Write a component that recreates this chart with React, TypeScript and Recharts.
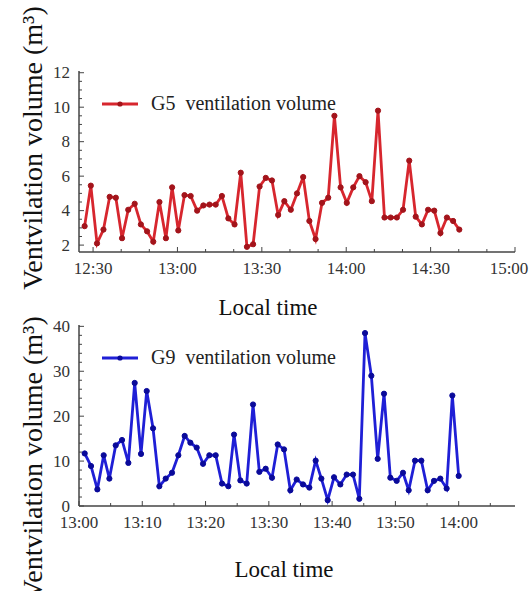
import { LineChart, Line, XAxis, YAxis, Legend } from "recharts";

// G5: minutes after 12:00
const g5Times = [
    27.0, 29.2, 31.4, 33.7, 35.9, 38.1, 40.3, 42.5, 44.8, 47.0, 49.2, 51.4, 53.6, 55.9, 58.1, 60.3,
    62.5, 64.7, 67.0, 69.2, 71.4, 73.6, 75.8, 78.1, 80.3, 82.5, 84.7, 86.9, 89.2, 91.4, 93.6, 95.8,
    98.0, 100.3, 102.5, 104.7, 106.9, 109.1, 111.4, 113.6, 115.8, 118.0, 120.2, 122.5, 124.7, 126.9,
    129.1, 131.3, 133.6, 135.8, 138.0, 140.2, 142.4, 144.7, 146.9, 149.1, 151.3, 153.5, 155.8, 158.0,
    160.2,
];
const g5Volume = [
    3.1, 5.45, 2.1, 2.9, 4.8, 4.75, 2.4, 4.05, 4.4, 3.2, 2.8, 2.2, 4.5, 2.4, 5.35, 2.85, 4.9, 4.85,
    4.0, 4.3, 4.35, 4.35, 4.85, 3.55, 3.2, 6.2, 1.9, 2.05, 5.4, 5.9, 5.75, 3.75, 4.55, 4.05, 5.0,
    5.95, 3.4, 2.35, 4.45, 4.75, 9.5, 5.35, 4.45, 5.35, 6.0, 5.65, 4.55, 9.8, 3.6, 3.6, 3.6, 4.05,
    6.9, 3.65, 3.2, 4.05, 4.0, 2.7, 3.6, 3.4, 2.9,
];

// G9: minutes after 13:00
const g9Times = [
    0.9, 1.9, 2.9, 3.9, 4.8, 5.8, 6.8, 7.8, 8.8, 9.8, 10.7, 11.7, 12.7, 13.7, 14.7, 15.7, 16.7,
    17.6, 18.6, 19.6, 20.6, 21.6, 22.6, 23.6, 24.5, 25.5, 26.5, 27.5, 28.5, 29.5, 30.5, 31.4, 32.4,
    33.4, 34.4, 35.4, 36.4, 37.4, 38.3, 39.3, 40.3, 41.3, 42.3, 43.3, 44.3, 45.2, 46.2, 47.2, 48.2,
    49.2, 50.2, 51.2, 52.1, 53.1, 54.1, 55.1, 56.1, 57.1, 58.1, 59.0, 60.0,
];
const g9Volume = [
    11.7, 8.9, 3.7, 11.3, 6.1, 13.5, 14.7, 9.6, 27.4, 11.6, 25.6, 17.3, 4.4, 6.1, 7.4, 11.3, 15.6,
    14.1, 13.0, 9.4, 11.3, 11.3, 5.0, 4.4, 15.9, 5.7, 5.0, 22.6, 7.6, 8.3, 6.3, 13.7, 12.6, 3.5,
    5.9, 4.8, 4.1, 10.1, 6.1, 1.3, 6.4, 4.8, 7.0, 7.0, 1.6, 38.5, 29.0, 10.5, 25.0, 6.3, 5.6, 7.4,
    3.5, 10.1, 10.1, 3.5, 5.6, 6.1, 3.9, 24.6, 6.7,
];

const g5TickMinutes = [30, 60, 90, 120, 150, 180];
const g5TickLabels = ["12:30", "13:00", "13:30", "14:00", "14:30", "15:00"];
const g5MinorMinutes = [40, 50, 70, 80, 100, 110, 130, 140, 160, 170];
const g5YTicks = [2, 4, 6, 8, 10, 12];
const g5YMinor = [2.5, 3, 3.5, 4.5, 5, 5.5, 6.5, 7, 7.5, 8.5, 9, 9.5, 10.5, 11, 11.5];

const g9TickMinutes = [0, 10, 20, 30, 40, 50, 60];
const g9TickLabels = ["13:00", "13:10", "13:20", "13:30", "13:40", "13:50", "14:00"];
const g9MinorMinutes = [5, 15, 25, 35, 45, 55, 65];
const g9YTicks = [0, 10, 20, 30, 40];
const g9YMinor = [2, 4, 6, 8, 12, 14, 16, 18, 22, 24, 26, 28, 32, 34, 36, 38];

const FONT = "'Liberation Serif', 'Times New Roman', serif";
const AXIS = "#444";
const FRAME = "#8a8a8a";
const M = 10;

const makeXTick = (majors: number[], labels: string[]) => (props: any) => {
    const { x, y, payload } = props;
    const i = majors.indexOf(payload.value);
    const axisY = y - M;
    return (
        <g>
            <line x1={x} x2={x} y1={axisY} y2={axisY - (i >= 0 ? 5 : 3)} stroke={AXIS} />
            {i >= 0 && (
                <text
                    x={Math.min(x, 509)}
                    y={axisY + 16}
                    textAnchor="middle"
                    dominantBaseline="central"
                    fontFamily={FONT}
                    fontSize={17}
                    fill="#333"
                >
                    {labels[i]}
                </text>
            )}
        </g>
    );
};

const makeYTick = (majors: number[]) => (props: any) => {
    const { x, y, payload } = props;
    const major = majors.includes(payload.value);
    const axisX = x + M;
    return (
        <g>
            <line x1={axisX} x2={axisX + (major ? 5 : 3)} y1={y} y2={y} stroke={AXIS} />
            {major && (
                <text
                    x={axisX - 9}
                    y={y}
                    textAnchor="end"
                    dominantBaseline="central"
                    fontFamily={FONT}
                    fontSize={17}
                    fill="#333"
                >
                    {payload.value}
                </text>
            )}
        </g>
    );
};

const yTitle = (cy: number) => () => (
    <text
        x={42}
        y={cy}
        transform={`rotate(-90, 42, ${cy})`}
        textAnchor="middle"
        fontFamily={FONT}
        fontSize={28}
        fill="#111"
    >
        Ventvilation volume (m³)
    </text>
);

const xTitle = (cx: number, by: number) => () => (
    <text x={cx} y={by} textAnchor="middle" fontFamily={FONT} fontSize={23} fill="#111">
        Local time
    </text>
);

const legendContent = (label: string, color: string, dotColor: string) => () => (
    <div style={{ display: "flex", alignItems: "center", fontFamily: FONT, fontSize: 20, color: "#222" }}>
        <svg width={36} height={10}>
            <line x1={0} x2={36} y1={5} y2={5} stroke={color} strokeWidth={2.8} />
            <circle cx={18} cy={5} r={2.6} fill={dotColor} />
        </svg>
        <span style={{ marginLeft: 13, whiteSpace: "pre" }}>{label}</span>
    </div>
);

const g5Data = g5Times.map((t, i) => ({ t, v: g5Volume[i] }));
const g9Data = g9Times.map((t, i) => ({ t, v: g9Volume[i] }));

export default function App() {
    return (
        <div style={{ position: "absolute", left: 0, top: 0, width: 530, height: 591, background: "#fff" }}>
            <div style={{ position: "absolute", left: 0, top: 0 }}>
                <LineChart width={530} height={330} data={g5Data} margin={{ top: 71, right: 15, left: 39, bottom: 48 }}>
                    <XAxis
                        dataKey="t"
                        type="number"
                        domain={[25, 180]}
                        allowDataOverflow
                        ticks={[...g5TickMinutes, ...g5MinorMinutes]}
                        interval={0}
                        height={30}
                        tickSize={0}
                        tickMargin={M}
                        tickLine={false}
                        axisLine={{ stroke: AXIS, strokeWidth: 1.5 }}
                        tick={makeXTick(g5TickMinutes, g5TickLabels)}
                        label={{ content: xTitle(268, 315) }}
                    />
                    <XAxis xAxisId="top" orientation="top" type="number" domain={[25, 180]} height={0} tick={false} tickLine={false} axisLine={{ stroke: FRAME }} />
                    <YAxis
                        type="number"
                        domain={[1.6, 12.1]}
                        allowDataOverflow
                        ticks={[...g5YTicks, ...g5YMinor]}
                        interval={0}
                        width={40}
                        tickSize={0}
                        tickMargin={M}
                        tickLine={false}
                        axisLine={{ stroke: AXIS, strokeWidth: 1.5 }}
                        tick={makeYTick(g5YTicks)}
                        label={{ content: yTitle(148) }}
                    />
                    <YAxis yAxisId="right" orientation="right" width={0} domain={[1.6, 12.1]} tick={false} tickLine={false} axisLine={{ stroke: FRAME }} />
                    <Legend
                        layout="vertical"
                        align="center"
                        verticalAlign="middle"
                        wrapperStyle={{ position: "absolute", left: 102, top: 92, width: 300, height: 24 }}
                        content={legendContent("G5  ventilation volume", "#d7262e", "#a3141b")}
                    />
                    <Line
                        dataKey="v"
                        type="linear"
                        stroke="#d7262e"
                        strokeWidth={2.8}
                        dot={{ r: 2.6, fill: "#a3141b", stroke: "#a3141b", strokeWidth: 1 }}
                        activeDot={false}
                        isAnimationActive={false}
                    />
                </LineChart>
            </div>
            <div style={{ position: "absolute", left: 0, top: 290 }}>
                <LineChart width={530} height={301} data={g9Data} margin={{ top: 35, right: 15, left: 39, bottom: 55 }}>
                    <XAxis
                        dataKey="t"
                        type="number"
                        domain={[0, 68.9]}
                        allowDataOverflow
                        ticks={[...g9TickMinutes, ...g9MinorMinutes]}
                        interval={0}
                        height={30}
                        tickSize={0}
                        tickMargin={M}
                        tickLine={false}
                        axisLine={{ stroke: AXIS, strokeWidth: 1.5 }}
                        tick={makeXTick(g9TickMinutes, g9TickLabels)}
                        label={{ content: xTitle(284, 287) }}
                    />
                    <XAxis xAxisId="top" orientation="top" type="number" domain={[0, 68.9]} height={0} tick={false} tickLine={false} axisLine={{ stroke: FRAME }} />
                    <YAxis
                        type="number"
                        domain={[0, 40.3]}
                        allowDataOverflow
                        ticks={[...g9YTicks, ...g9YMinor]}
                        interval={0}
                        width={40}
                        tickSize={0}
                        tickMargin={M}
                        tickLine={false}
                        axisLine={{ stroke: AXIS, strokeWidth: 1.5 }}
                        tick={makeYTick(g9YTicks)}
                        label={{ content: yTitle(168) }}
                    />
                    <YAxis yAxisId="right" orientation="right" width={0} domain={[0, 40.3]} tick={false} tickLine={false} axisLine={{ stroke: FRAME }} />
                    <Legend
                        layout="vertical"
                        align="center"
                        verticalAlign="middle"
                        wrapperStyle={{ position: "absolute", left: 102, top: 56, width: 300, height: 24 }}
                        content={legendContent("G9  ventilation volume", "#1f1fd6", "#0a0a9a")}
                    />
                    <Line
                        dataKey="v"
                        type="linear"
                        stroke="#1f1fd6"
                        strokeWidth={2.8}
                        dot={{ r: 2.6, fill: "#0a0a9a", stroke: "#0a0a9a", strokeWidth: 1 }}
                        activeDot={false}
                        isAnimationActive={false}
                    />
                </LineChart>
            </div>
        </div>
    );
}
